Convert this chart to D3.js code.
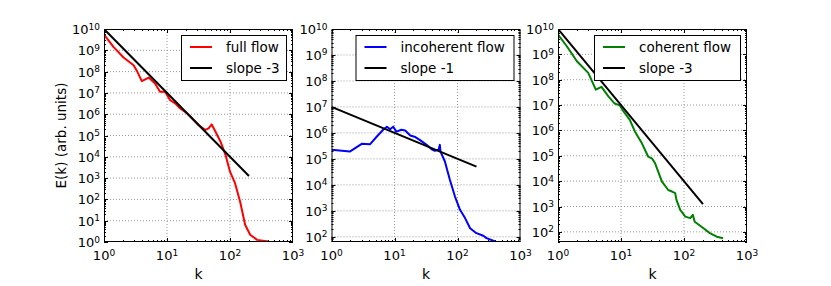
<!DOCTYPE html>
<html>
<head>
<meta charset="utf-8">
<script src="https://cdn.jsdelivr.net/npm/d3@7"></script>
<style>
  body { margin: 0; background: #fff; }
  svg { display: block; font-family: "DejaVu Sans", sans-serif; }
  .grid line { stroke: #999; stroke-dasharray: 1,2; stroke-width: 1; }
</style>
</head>
<body>
<svg id="chart" width="831" height="286"></svg>
<script>
// values: [log10(k), log10(E)]
var fullFlow = [
  [0, 9.74], [0.15, 9.16], [0.31, 8.66], [0.47, 8.30], [0.53, 7.99], [0.60, 7.55],
  [0.71, 7.72], [0.81, 7.44], [0.89, 7.05], [0.97, 7.05], [1.05, 6.66], [1.13, 6.51],
  [1.21, 6.27], [1.32, 6.04], [1.40, 5.80], [1.50, 5.49], [1.61, 5.26], [1.66, 5.33],
  [1.71, 5.52], [1.77, 5.18], [1.85, 4.71], [1.93, 4.08], [2.00, 3.30], [2.08, 2.76],
  [2.16, 1.90], [2.24, 0.81], [2.32, 0.34], [2.43, 0.10], [2.61, 0.02]
];
var incoherentFlow = [
  [0, 5.35], [0.29, 5.28], [0.48, 5.58], [0.61, 5.56], [0.72, 5.86], [0.82, 6.12],
  [0.88, 6.24], [0.93, 6.14], [0.98, 6.24], [1.03, 6.05], [1.11, 6.12], [1.17, 6.09],
  [1.25, 5.90], [1.33, 5.84], [1.40, 5.73], [1.51, 5.54], [1.59, 5.37], [1.64, 5.31],
  [1.70, 5.35], [1.72, 5.54], [1.73, 5.28], [1.80, 4.90], [1.88, 4.19], [1.96, 3.55],
  [2.04, 3.04], [2.12, 2.72], [2.20, 2.33], [2.30, 2.14], [2.41, 2.04], [2.46, 1.95],
  [2.60, 1.82]
];
var coherentFlow = [
  [0, 9.78], [0.14, 9.32], [0.30, 8.73], [0.48, 8.27], [0.60, 7.61], [0.69, 7.72],
  [0.80, 7.34], [0.90, 7.06], [0.98, 6.99], [1.04, 6.75], [1.14, 6.42], [1.22, 5.96],
  [1.33, 5.50], [1.43, 4.97], [1.49, 4.90], [1.54, 4.71], [1.65, 3.98], [1.75, 3.65],
  [1.81, 3.59], [1.86, 3.53], [1.88, 3.26], [1.94, 2.87], [2.02, 2.60], [2.10, 2.54],
  [2.14, 2.67], [2.17, 2.40], [2.31, 2.14], [2.41, 1.95], [2.52, 1.81], [2.62, 1.75]
];
// reference power laws: E = amp * k^slope, k from 1 to 200
var slopeK = [1, 200];
var panelSlopes = [-3, -1, -3];
var panelAmps = [1e10, 1e7, 1e10];
var panelNames = ["full flow", "incoherent flow", "coherent flow"];
var panelColors = ["#ff0000", "#0000ff", "#008000"];
var panelYmin = [1, Math.pow(10, 1.8), Math.pow(10, 1.6)];
var yTickExps = [[0,1,2,3,4,5,6,7,8,9,10], [2,3,4,5,6,7,8,9,10], [2,3,4,5,6,7,8,9,10]];
var xTickExps = [0, 1, 2, 3];

var svg = d3.select("#chart");
var panelLeft = [104, 331.5, 558];
var pw = 189, plotTop = 29, plotBottom = 242;
var allData = [fullFlow, incoherentFlow, coherentFlow];

function powLabel(sel, e) {
  sel.text("10").append("tspan").attr("dy", "-0.5em").style("font-size", "9px").text(e);
}

function drawPanel(i) {
  var x0 = panelLeft[i];
  var x = d3.scaleLog().domain([1, 1000]).range([x0, x0 + pw]);
  var y = d3.scaleLog().domain([panelYmin[i], 1e10]).range([plotBottom, plotTop]);
  var g = svg.append("g");

  // grid
  var grid = g.append("g").attr("class", "grid");
  xTickExps.slice(1, 3).forEach(function(e) {
    grid.append("line").attr("x1", x(Math.pow(10, e))).attr("x2", x(Math.pow(10, e)))
      .attr("y1", plotTop).attr("y2", plotBottom);
  });
  yTickExps[i].forEach(function(e) {
    var v = Math.pow(10, e);
    if (v <= panelYmin[i] || e == 10) return;
    grid.append("line").attr("x1", x0).attr("x2", x0 + pw).attr("y1", y(v)).attr("y2", y(v));
  });

  // ticks, inside, all four sides
  var ticks = g.append("g").attr("stroke", "#000").attr("stroke-width", 1);
  for (var d = 0; d < 3; d++) {
    for (var m = 1; m < 10; m++) {
      var v = m * Math.pow(10, d);
      var len = m == 1 ? 4 : 2;
      var px = Math.round(x(v)) + 0.5;
      ticks.append("line").attr("x1", px).attr("x2", px).attr("y1", plotBottom).attr("y2", plotBottom - len);
      ticks.append("line").attr("x1", px).attr("x2", px).attr("y1", plotTop).attr("y2", plotTop + len);
    }
  }
  var ylo = Math.floor(Math.log10(panelYmin[i]));
  for (var d2 = ylo; d2 < 10; d2++) {
    for (var m2 = 1; m2 < 10; m2++) {
      var v2 = m2 * Math.pow(10, d2);
      if (v2 < panelYmin[i]) continue;
      var len2 = m2 == 1 ? 4 : 2;
      var py = Math.round(y(v2)) + 0.5;
      ticks.append("line").attr("y1", py).attr("y2", py).attr("x1", x0).attr("x2", x0 + len2);
      ticks.append("line").attr("y1", py).attr("y2", py).attr("x1", x0 + pw).attr("x2", x0 + pw - len2);
    }
  }

  // clip for data lines
  var clipId = "clip" + i;
  svg.append("clipPath").attr("id", clipId).append("rect")
    .attr("x", x0).attr("y", plotTop).attr("width", pw).attr("height", plotBottom - plotTop);

  var line = d3.line().x(function(p) { return x(Math.pow(10, p[0])); })
    .y(function(p) { return y(Math.pow(10, p[1])); });
  g.append("path").datum(allData[i]).attr("clip-path", "url(#" + clipId + ")")
    .attr("d", line).attr("fill", "none").attr("stroke", panelColors[i])
    .attr("stroke-width", 2).attr("stroke-linejoin", "round");

  var slopeData = slopeK.map(function(k) {
    return [Math.log10(k), Math.log10(panelAmps[i] * Math.pow(k, panelSlopes[i]))];
  });
  g.append("path").datum(slopeData).attr("clip-path", "url(#" + clipId + ")")
    .attr("d", line).attr("fill", "none").attr("stroke", "#000").attr("stroke-width", 2);

  // frame
  g.append("rect").attr("x", x0 + 0.5).attr("y", plotTop + 0.5).attr("width", pw - 1)
    .attr("height", plotBottom - plotTop - 1).attr("fill", "none").attr("stroke", "#000");

  // tick labels
  xTickExps.forEach(function(e) {
    g.append("text").attr("x", x(Math.pow(10, e))).attr("y", 260)
      .attr("text-anchor", "middle").style("font-size", "13px").call(powLabel, e);
  });
  yTickExps[i].forEach(function(e) {
    if (Math.pow(10, e) < panelYmin[i]) return;
    g.append("text").attr("x", x0 - 4).attr("y", y(Math.pow(10, e)) + 5)
      .attr("text-anchor", "end").style("font-size", "13px").call(powLabel, e);
  });

  g.append("text").attr("x", x0 + pw / 2).attr("y", 279).attr("text-anchor", "middle")
    .style("font-size", "14px").text("k");

  // legend
  var lw = [105, 158, 146][i];
  var lx = x0 + pw - 7 - lw;
  var leg = g.append("g");
  leg.append("rect").attr("x", lx + 0.5).attr("y", 35.5).attr("width", lw).attr("height", 45)
    .attr("fill", "#fff").attr("stroke", "#000");
  var entries = [[panelNames[i], panelColors[i]], ["slope " + panelSlopes[i], "#000"]];
  entries.forEach(function(en, j) {
    var ly = 47 + j * 21;
    leg.append("line").attr("x1", lx + 9).attr("x2", lx + 31).attr("y1", ly).attr("y2", ly)
      .attr("stroke", en[1]).attr("stroke-width", 2);
    leg.append("text").attr("x", lx + 45).attr("y", ly + 5).style("font-size", "13.5px").text(en[0]);
  });
}

[0, 1, 2].forEach(drawPanel);

svg.append("text").attr("transform", "translate(66," + (plotTop + plotBottom) / 2 + ") rotate(-90)")
  .attr("text-anchor", "middle").style("font-size", "13.5px").text("E(k) (arb. units)");
</script>
</body>
</html>
